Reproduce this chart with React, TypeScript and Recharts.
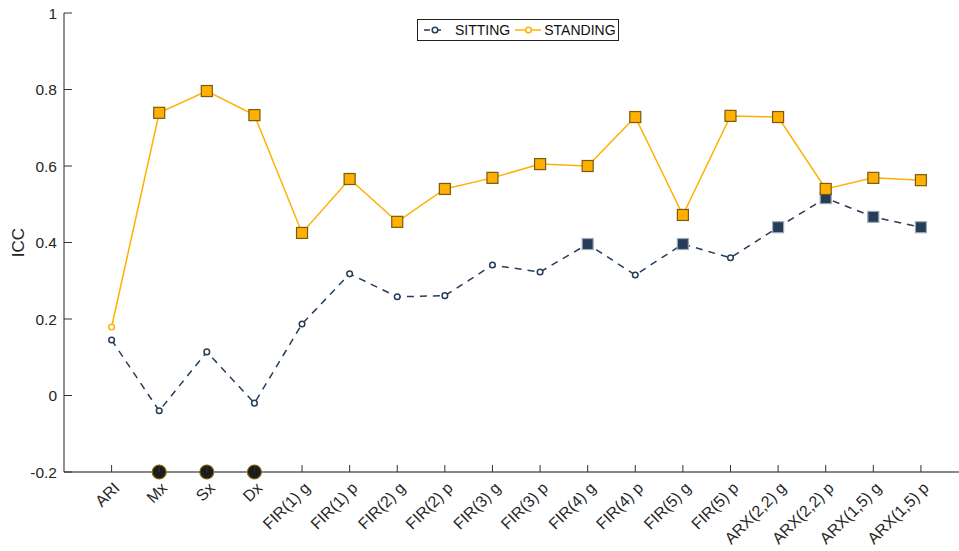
import { LineChart, Line, XAxis, YAxis, Legend } from "recharts";

const categories = [
  "ARI", "Mx", "Sx", "Dx",
  "FIR(1) g", "FIR(1) p", "FIR(2) g", "FIR(2) p", "FIR(3) g", "FIR(3) p",
  "FIR(4) g", "FIR(4) p", "FIR(5) g", "FIR(5) p",
  "ARX(2,2) g", "ARX(2,2) p", "ARX(1,5) g", "ARX(1,5) p",
];

const sitting = [
  0.145, -0.04, 0.114, -0.02, 0.187, 0.318, 0.258, 0.261, 0.341, 0.323,
  0.396, 0.315, 0.396, 0.36, 0.44, 0.516, 0.467, 0.44,
];
const standing = [
  0.179, 0.739, 0.796, 0.733, 0.425, 0.566, 0.454, 0.54, 0.569, 0.605,
  0.6, 0.728, 0.472, 0.731, 0.728, 0.54, 0.569, 0.563,
];

// square marker = significant, small open circle = not
const sittingSig = [
  false, false, false, false, false, false, false, false, false, false,
  true, false, true, false, true, true, true, true,
];
const standingSig = [
  false, true, true, true, true, true, true, true, true, true,
  true, true, true, true, true, true, true, true,
];

// black dots on the baseline
const flagged = ["Mx", "Sx", "Dx"];
const yTicks = [-0.2, 0, 0.2, 0.4, 0.6, 0.8, 1];

const SIT = "#263d5a";
const STAND = "#ffb000";

const data = categories.map((c, i) => ({
  x: i + 1,
  sitting: sitting[i],
  standing: standing[i],
  flag: flagged.includes(c) ? -0.2 : null,
}));

const FONT = "'Liberation Sans', Arial, Helvetica, sans-serif";

function makeDot(color: string, edge: string, sig: boolean[], sqEdge: string) {
  // eslint-disable-next-line @typescript-eslint/no-explicit-any
  return (props: any) => {
    const { cx, cy, index } = props;
    if (cx == null || cy == null) return <g key={`d${index}`} />;
    if (sig[index]) {
      return (
        <rect
          key={`d${index}`}
          x={cx - 5.5}
          y={cy - 5.5}
          width={11}
          height={11}
          fill={color}
          stroke={sqEdge}
          strokeWidth={1.2}
        />
      );
    }
    return (
      <circle
        key={`d${index}`}
        cx={cx}
        cy={cy}
        r={2.8}
        fill="#fff"
        stroke={edge}
        strokeWidth={1.5}
      />
    );
  };
}

// eslint-disable-next-line @typescript-eslint/no-explicit-any
function FlagDot(props: any) {
  const { cx, cy, index } = props;
  if (cx == null || cy == null || props.payload.flag == null) return <g key={`f${index}`} />;
  return (
    <circle key={`f${index}`} cx={cx} cy={cy} r={7} fill="#1c1c1c" stroke="#8a6a10" strokeWidth={1.2} />
  );
}

// eslint-disable-next-line @typescript-eslint/no-explicit-any
function XTick(props: any) {
  const { x, y, payload } = props;
  return (
    <g>
      <line x1={x} x2={x} y1={y} y2={y - 7} stroke="#333" strokeWidth={1} />
      <text
        transform={`translate(${x + 9},${y + 17}) rotate(-45)`}
        textAnchor="end"
        fontSize={16}
        fontFamily={FONT}
        fill="#262626"
      >
        {categories[payload.value - 1]}
      </text>
    </g>
  );
}

// eslint-disable-next-line @typescript-eslint/no-explicit-any
function YTick(props: any) {
  const { x, y, payload } = props;
  return (
    <g>
      <line x1={x} x2={x + 8} y1={y} y2={y} stroke="#333" strokeWidth={1} />
      <text
        x={x - 7}
        y={y + 5.5}
        textAnchor="end"
        fontSize={15.5}
        fontFamily={FONT}
        fill="#262626"
      >
        {String(payload.value)}
      </text>
    </g>
  );
}

function LegendBox() {
  const item = (label: string, color: string, dashed: boolean, w: number) => (
    <span style={{ display: "inline-flex", alignItems: "center" }}>
      <svg width={w} height={12}>
        <line
          x1={dashed ? 5 : 0}
          x2={w - 1}
          y1={6}
          y2={6}
          stroke={color}
          strokeWidth={1.5}
          strokeDasharray={dashed ? "6 5" : undefined}
        />
        <circle cx={dashed ? 16 : w / 2} cy={6} r={2.8} fill="#fff" stroke={color} strokeWidth={1.5} />
      </svg>
      <span style={{ marginLeft: dashed ? 8 : 2, marginRight: dashed ? 5 : 1 }}>{label}</span>
    </span>
  );
  return (
    <div
      style={{
        border: "1px solid #222",
        background: "#fff",
        padding: "1px 1px 1px 1px",
        fontFamily: FONT,
        fontSize: 14,
        color: "#111",
        display: "inline-flex",
        lineHeight: "18px",
      }}
    >
      {item("SITTING", SIT, true, 28)}
      {item("STANDING", STAND, false, 27)}
    </div>
  );
}

export default function App() {
  return (
    <div style={{ position: "absolute", left: 0, top: 0, background: "#fff" }}>
      <LineChart
        width={959}
        height={551}
        data={data}
        margin={{ top: 13, right: 0, bottom: 0, left: 0 }}
      >
        <XAxis
          type="number"
          dataKey="x"
          domain={[0, 18.8]}
          ticks={categories.map((_, i) => i + 1)}
          interval={0}
          height={79}
          tickSize={0}
          tickMargin={0}
          tickLine={false}
          tick={<XTick />}
          axisLine={{ stroke: "#888", strokeWidth: 2 }}
          allowDataOverflow
        />
        <YAxis
          type="number"
          domain={[-0.2, 1]}
          ticks={yTicks}
          width={64}
          tickSize={0}
          tickMargin={0}
          tickLine={false}
          tick={<YTick />}
          axisLine={{ stroke: "#262626", strokeWidth: 1 }}
          label={{
            // eslint-disable-next-line @typescript-eslint/no-explicit-any
            content: ({ viewBox }: any) => (
              <text
                transform={`translate(24,${viewBox.y + viewBox.height / 2}) rotate(-90)`}
                textAnchor="middle"
                fontSize={17}
                fontFamily={FONT}
                fill="#262626"
              >
                ICC
              </text>
            ),
          }}
        />
        <Legend
          layout="horizontal"
          verticalAlign="middle"
          align="center"
          wrapperStyle={{ top: 19, left: 417, width: "auto" }}
          content={() => <LegendBox />}
        />
        <Line
          dataKey="sitting"
          name="SITTING"
          stroke={SIT}
          strokeWidth={1.5}
          strokeDasharray="7 6"
          dot={makeDot(SIT, SIT, sittingSig, "#9aa8b8")}
          isAnimationActive={false}
        />
        <Line
          dataKey="standing"
          name="STANDING"
          stroke={STAND}
          strokeWidth={1.5}
          dot={makeDot(STAND, STAND, standingSig, "#7a5a10")}
          isAnimationActive={false}
        />
        <Line
          dataKey="flag"
          stroke="none"
          legendType="none"
          dot={FlagDot}
          activeDot={false}
          isAnimationActive={false}
        />
      </LineChart>
    </div>
  );
}
